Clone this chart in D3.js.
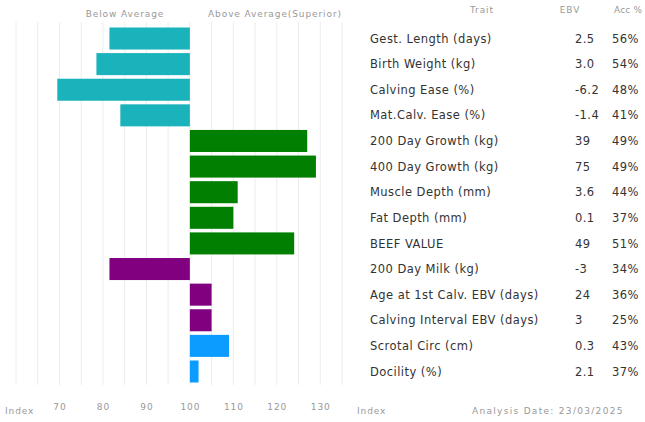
<!DOCTYPE html>
<html><head><meta charset="utf-8">
<script src="https://cdn.jsdelivr.net/npm/d3@7"></script>
<style>body{margin:0;background:#fff}svg{display:block}</style>
</head><body>
<svg id="chart" width="645" height="422"></svg>
<script>
const traits = ["Gest. Length (days)","Birth Weight (kg)","Calving Ease (%)","Mat.Calv. Ease (%)","200 Day Growth (kg)","400 Day Growth (kg)","Muscle Depth (mm)","Fat Depth (mm)","BEEF VALUE","200 Day Milk (kg)","Age at 1st Calv. EBV (days)","Calving Interval EBV (days)","Scrotal Circ (cm)","Docility (%)"];
const ebv = ["2.5","3.0","-6.2","-1.4","39","75","3.6","0.1","49","-3","24","3","0.3","2.1"];
const acc = ["56%","54%","48%","41%","49%","49%","44%","37%","51%","34%","36%","25%","43%","37%"];
const indexValues = [81.5,78.5,69.5,84,127,129,111,110,124,81.5,105,105,109,102];
const groups = ["calving","calving","calving","calving","growth","growth","growth","growth","growth","maternal","maternal","maternal","other","other"];
const tickValues = [70,80,90,100,110,120,130];
const gridValues = d3.range(60,136,5);
const groupColors = {calving:"#1bb3bb",growth:"#007f00",maternal:"#800080",other:"#0c9bff"};

const svg = d3.select("#chart");
const x = d3.scaleLinear().domain([60,135]).range([16,342]);
const y = d3.scaleBand().domain(traits).range([25.7,384.3]).paddingInner(0.14).paddingOuter(0.07);
const font = "DejaVu Sans, sans-serif";

// grid
svg.append("g").selectAll("line").data(gridValues).join("line")
  .attr("x1",d=>x(d)).attr("x2",d=>x(d)).attr("y1",22).attr("y2",385)
  .attr("stroke","#ececec").attr("stroke-width",1);

// bars
svg.append("g").selectAll("rect").data(traits).join("rect")
  .attr("x",(d,i)=>Math.min(x(100),x(indexValues[i])))
  .attr("width",(d,i)=>Math.abs(x(indexValues[i])-x(100)))
  .attr("y",d=>y(d)).attr("height",y.bandwidth())
  .attr("fill",(d,i)=>groupColors[groups[i]]);

// header
const hdr = svg.append("g").attr("font-family",font).attr("font-size",9).attr("fill","#999").attr("letter-spacing",0.9);
hdr.append("text").attr("x",125).attr("y",17).attr("text-anchor","middle").text("Below Average");
hdr.append("text").attr("x",275).attr("y",17).attr("text-anchor","middle").text("Above Average(Superior)");
hdr.append("text").attr("x",482).attr("y",13).attr("text-anchor","middle").text("Trait");
hdr.append("text").attr("x",570).attr("y",13).attr("text-anchor","middle").text("EBV");
hdr.append("text").attr("x",614).attr("y",13).attr("letter-spacing",0.2).text("Acc %");

// table text
const rows = svg.append("g").attr("font-family",font).attr("font-size",11.5).attr("fill","#333").attr("letter-spacing",0.45);
rows.selectAll("text.t").data(traits).join("text").attr("class","t")
  .attr("x",370).attr("y",d=>y(d)+y.bandwidth()/2).attr("dy","0.36em").text(d=>d);
rows.selectAll("text.e").data(ebv).join("text").attr("class","e")
  .attr("x",575).attr("y",(d,i)=>y(traits[i])+y.bandwidth()/2).attr("dy","0.36em").text(d=>d);
rows.selectAll("text.a").data(acc).join("text").attr("class","a")
  .attr("x",612).attr("y",(d,i)=>y(traits[i])+y.bandwidth()/2).attr("dy","0.36em").text(d=>d);

// bottom axis
const axis = d3.axisBottom(x).tickValues(tickValues).tickSize(0).tickPadding(0);
const ax = svg.append("g").attr("transform","translate(0,404)").call(axis);
ax.select(".domain").remove();
ax.selectAll("text").attr("font-family",font).attr("font-size",9).attr("fill","#999").attr("letter-spacing",0.9);
const bot = svg.append("g").attr("font-family",font).attr("font-size",9).attr("fill","#999").attr("letter-spacing",0.9);
bot.append("text").attr("x",5).attr("y",414).text("Index");
bot.append("text").attr("x",357).attr("y",414).text("Index");
bot.append("text").attr("x",472).attr("y",414).attr("letter-spacing",1.3).text("Analysis Date: 23/03/2025");
</script>
</body></html>
